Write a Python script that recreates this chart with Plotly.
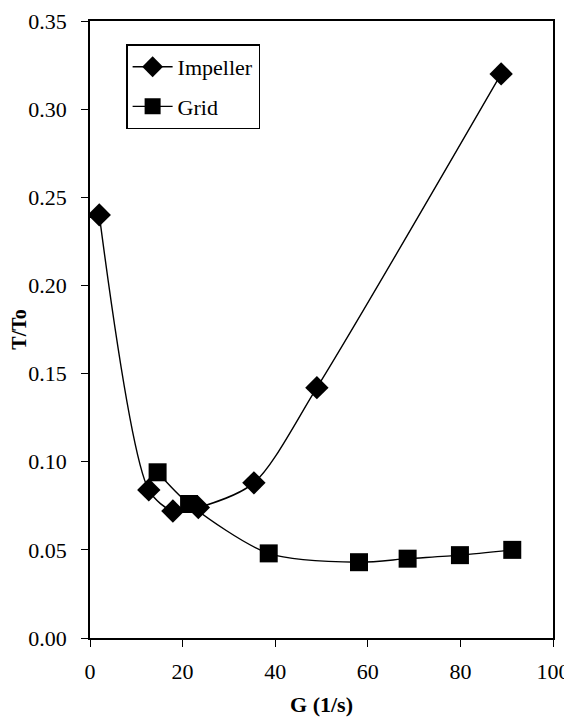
import plotly.graph_objects as go

imp_x = [2, 12.7, 17.9, 23.4, 35.4, 49, 88.8]
imp_y = [0.240, 0.084, 0.072, 0.074, 0.088, 0.142, 0.320]
grid_x = [14.6, 21.4, 38.6, 58.1, 68.6, 79.9, 91.2]
grid_y = [0.094, 0.076, 0.048, 0.043, 0.045, 0.047, 0.050]

xticks = [0, 20, 40, 60, 80, 100]
yticks = [0.00, 0.05, 0.10, 0.15, 0.20, 0.25, 0.30, 0.35]
ytick_text = ["%.2f" % v for v in yticks]

fig = go.Figure()
fig.add_trace(go.Scatter(
    x=grid_x, y=grid_y, name="Grid", mode="lines+markers",
    line=dict(color="black", width=1.4, shape="spline", smoothing=0.8),
    marker=dict(symbol="square", size=18, color="black"),
    legendrank=2, legendgroup="g",
))
fig.add_trace(go.Scatter(
    x=imp_x, y=imp_y, name="Impeller", mode="lines+markers",
    line=dict(color="black", width=1.4, shape="spline", smoothing=0.8),
    marker=dict(symbol="diamond", size=18, color="black"),
    legendrank=1, legendgroup="i",
))

font = "Liberation Serif, Times New Roman, serif"
fig.update_layout(
    width=564, height=709,
    margin=dict(l=82, r=19, t=13, b=79),
    paper_bgcolor="white", plot_bgcolor="white",
    font=dict(family=font, size=22, color="black"),
    showlegend=True,
    legend=dict(
        x=0.078, y=0.962, xanchor="left", yanchor="top",
        bordercolor="black", borderwidth=1.5, bgcolor="white",
        font=dict(family=font, size=22, color="black"),
        itemwidth=40, tracegroupgap=8,
    ),
    xaxis=dict(
        range=[0, 100], tickvals=xticks, ticks="outside", ticklen=7,
        tickcolor="black", tickwidth=1.4,
        showline=True, linecolor="black", linewidth=1.5, mirror=True,
        showgrid=False, zeroline=False, automargin=False,
        ticklabelstandoff=6,
        title=dict(text="<b>G (1/s)</b>", font=dict(family=font, size=22), standoff=25),
    ),
    yaxis=dict(
        range=[0, 0.35], tickvals=yticks, ticktext=ytick_text, ticks="outside", ticklen=7,
        tickcolor="black", tickwidth=1.4,
        showline=True, linecolor="black", linewidth=1.5, mirror=True,
        showgrid=False, zeroline=False, automargin=False,
        ticklabelstandoff=10,
        title=dict(text="<b>T/To</b>", font=dict(family=font, size=20), standoff=0),
    ),
)

fig.write_html("out.html")
